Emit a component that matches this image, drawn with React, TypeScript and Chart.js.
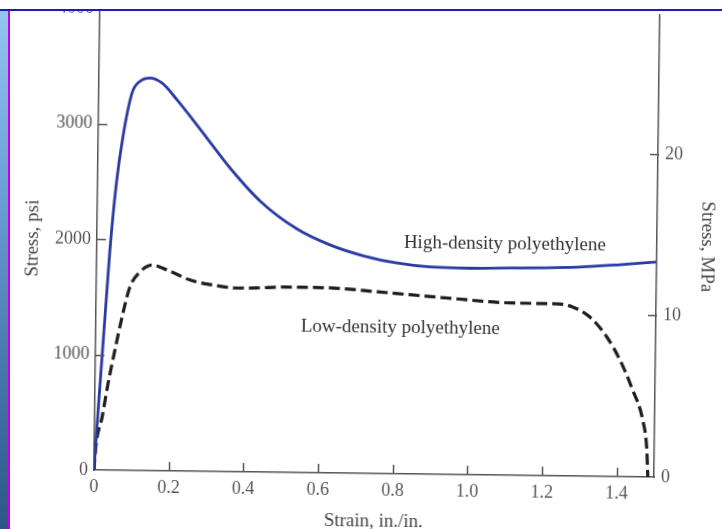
import { useEffect, useRef } from 'react';
import { Chart, registerables } from 'chart.js';

Chart.register(...registerables);

// High-density polyethylene (strain in./in., stress psi)
const hdStrain = [0, 0.005, 0.02, 0.035, 0.05, 0.066, 0.089, 0.112, 0.137, 0.169, 0.21, 0.291, 0.354, 0.438, 0.535, 0.624, 0.713, 0.804, 0.893, 1.0, 1.115, 1.294, 1.4, 1.5];
const hdStress = [0, 300, 1100, 1900, 2480, 2886, 3268, 3375, 3400, 3358, 3213, 2887, 2630, 2340, 2110, 1975, 1885, 1825, 1795, 1788, 1795, 1811, 1835, 1863];

// Low-density polyethylene
const ldStrain = [0, 0.004, 0.02, 0.035, 0.052, 0.07, 0.09, 0.116, 0.148, 0.189, 0.251, 0.312, 0.377, 0.43, 0.5, 0.626, 0.76, 0.939, 1.116, 1.242, 1.277, 1.323, 1.369, 1.405, 1.44, 1.468, 1.48, 1.4835];
const ldStress = [0, 200, 460, 755, 1041, 1328, 1589, 1719, 1781, 1740, 1655, 1615, 1591, 1594, 1605, 1602, 1572, 1528, 1492, 1488, 1464, 1379, 1208, 1010, 752, 493, 234, 0];

const xTickValues = [0, 0.2, 0.4, 0.6, 0.8, 1.0, 1.2, 1.4];
const psiTickValues = [0, 1000, 2000, 3000, 4000];
const mpaTickValues = [0, 10, 20];
const psiMarkValues = [1000, 2000, 3000];
const mpaMarkValues = [10, 20];

const hdLabel = 'High-density polyethylene';
const ldLabel = 'Low-density polyethylene';
const hdLabelPos = { x: 0.822, y: 1999 };
const ldLabelPos = { x: 0.549, y: 1261 };

const FONT = "'Liberation Serif', 'Times New Roman', serif";

export default function App() {
  const ref = useRef<HTMLCanvasElement | null>(null);

  useEffect(() => {
    const canvas = ref.current;
    if (!canvas) return;

    const tickMarks = {
      id: 'tickMarks',
      afterDraw(chart: any) {
        const { ctx, chartArea } = chart;
        const x = chart.scales.x;
        const y = chart.scales.y;
        const y2 = chart.scales.y2;
        ctx.save();
        ctx.strokeStyle = '#555';
        ctx.lineWidth = 1.5;
        ctx.beginPath();
        psiMarkValues.forEach((v) => {
          const p = Math.round(y.getPixelForValue(v)) + 0.5;
          ctx.moveTo(chartArea.left - 1, p);
          ctx.lineTo(chartArea.left + 9, p);
        });
        xTickValues.slice(1).forEach((v) => {
          const p = Math.round(x.getPixelForValue(v)) + 0.5;
          ctx.moveTo(p, chartArea.bottom);
          ctx.lineTo(p, chartArea.bottom - 9);
        });
        mpaMarkValues.forEach((v) => {
          const p = Math.round(y2.getPixelForValue(v)) + 0.5;
          ctx.moveTo(chartArea.right - 8, p);
          ctx.lineTo(chartArea.right + 1, p);
        });
        ctx.stroke();
        ctx.restore();
      },
    };

    const curveLabels = {
      id: 'curveLabels',
      afterDatasetsDraw(chart: any) {
        const { ctx } = chart;
        const x = chart.scales.x;
        const y = chart.scales.y;
        ctx.save();
        ctx.fillStyle = '#333';
        ctx.font = `19px ${FONT}`;
        ctx.textAlign = 'left';
        ctx.textBaseline = 'middle';
        ctx.fillText(hdLabel, x.getPixelForValue(hdLabelPos.x), y.getPixelForValue(hdLabelPos.y));
        ctx.fillText(ldLabel, x.getPixelForValue(ldLabelPos.x), y.getPixelForValue(ldLabelPos.y));
        ctx.restore();
      },
    };

    const tickFont = { family: FONT, size: 18 };
    const titleFont = { family: FONT, size: 19 };

    const noPad = (s: any) => {
      s.paddingTop = 0;
      s.paddingBottom = 0;
      s.paddingLeft = 0;
      s.paddingRight = 0;
    };

    const chart = new Chart(canvas, {
      type: 'line',
      data: {
        datasets: [
          {
            label: hdLabel,
            data: hdStrain.map((v, i) => ({ x: v, y: hdStress[i] })),
            borderColor: '#2b3aa2',
            borderWidth: 2.8,
            pointRadius: 0,
            fill: false,
            cubicInterpolationMode: 'monotone',
            yAxisID: 'y',
          },
          {
            label: ldLabel,
            data: ldStrain.map((v, i) => ({ x: v, y: ldStress[i] })),
            borderColor: '#1e1e1e',
            borderWidth: 3.2,
            borderDash: [11, 5],
            pointRadius: 0,
            fill: false,
            cubicInterpolationMode: 'monotone',
            yAxisID: 'y',
          },
        ],
      },
      options: {
        animation: false,
        responsive: false,
        devicePixelRatio: 1,
        layout: { padding: { top: 8, left: 0, right: 0, bottom: 0 } },
        plugins: { legend: { display: false }, tooltip: { enabled: false } },
        scales: {
          x: {
            type: 'linear',
            min: 0,
            max: 1.5,
            afterBuildTicks: (s: any) => {
              s.ticks = xTickValues.map((v) => ({ value: v }));
            },
            afterFit: (s: any) => {
              s.height = 59;
              noPad(s);
            },
            grid: { display: false, drawTicks: false },
            border: { display: true, color: '#555', width: 1.5 },
            ticks: {
              padding: 6,
              font: tickFont,
              color: '#555',
              maxRotation: 0,
              autoSkip: false,
              callback: (v: any) => (Number(v) === 0 ? '0' : Number(v).toFixed(1)),
            },
            title: {
              display: true,
              text: 'Strain, in./in.',
              font: titleFont,
              color: '#444',
              padding: { top: 0, bottom: 0 },
            },
          },
          y: {
            position: 'left',
            min: 0,
            max: 4000,
            afterBuildTicks: (s: any) => {
              s.ticks = psiTickValues.map((v) => ({ value: v }));
            },
            afterFit: (s: any) => {
              s.width = 94;
              noPad(s);
            },
            grid: { display: false, drawTicks: false },
            border: { display: true, color: '#555', width: 1.5 },
            ticks: { padding: 6, font: tickFont, color: '#555', callback: (v: any) => String(v) },
            title: {
              display: true,
              text: 'Stress, psi',
              font: titleFont,
              color: '#444',
              padding: { top: 19, bottom: 0 },
            },
          },
          y2: {
            position: 'right',
            min: 0,
            max: 28.6,
            afterBuildTicks: (s: any) => {
              s.ticks = mpaTickValues.map((v) => ({ value: v }));
            },
            afterFit: (s: any) => {
              s.width = 68;
              noPad(s);
            },
            grid: { display: false, drawTicks: false },
            border: { display: true, color: '#555', width: 1.5 },
            ticks: { padding: 7, font: tickFont, color: '#555', callback: (v: any) => String(v) },
            title: {
              display: true,
              text: 'Stress, MPa',
              font: titleFont,
              color: '#444',
              padding: { top: 7, bottom: 0 },
            },
          },
        },
      },
      plugins: [tickMarks, curveLabels],
    } as any);

    return () => chart.destroy();
  }, []);

  return (
    <div
      style={{
        position: 'fixed',
        left: 0,
        top: 0,
        width: 722,
        height: 529,
        background: '#ffffff',
        overflow: 'hidden',
      }}
    >
      <canvas
        ref={ref}
        width={722}
        height={529}
        style={{
          position: 'absolute',
          left: 0,
          top: 0,
          width: 722,
          height: 529,
          transform: 'rotate(0.73deg)',
          transformOrigin: '94px 470px',
        }}
      />
      <div style={{ position: 'absolute', left: 0, top: 0, width: 722, height: 9, background: '#ffffff' }} />
      <div style={{ position: 'absolute', left: 0, top: 9, width: 722, height: 2, background: '#1f1fa6' }} />
      <div
        style={{
          position: 'absolute',
          left: 0,
          top: 11,
          width: 8,
          height: 518,
          background: 'linear-gradient(to bottom, #92c5ef 0%, #6b9fd6 35%, #4676ab 70%, #2c5686 100%)',
        }}
      />
      <div style={{ position: 'absolute', left: 8, top: 11, width: 2, height: 518, background: '#c400e2' }} />
    </div>
  );
}
